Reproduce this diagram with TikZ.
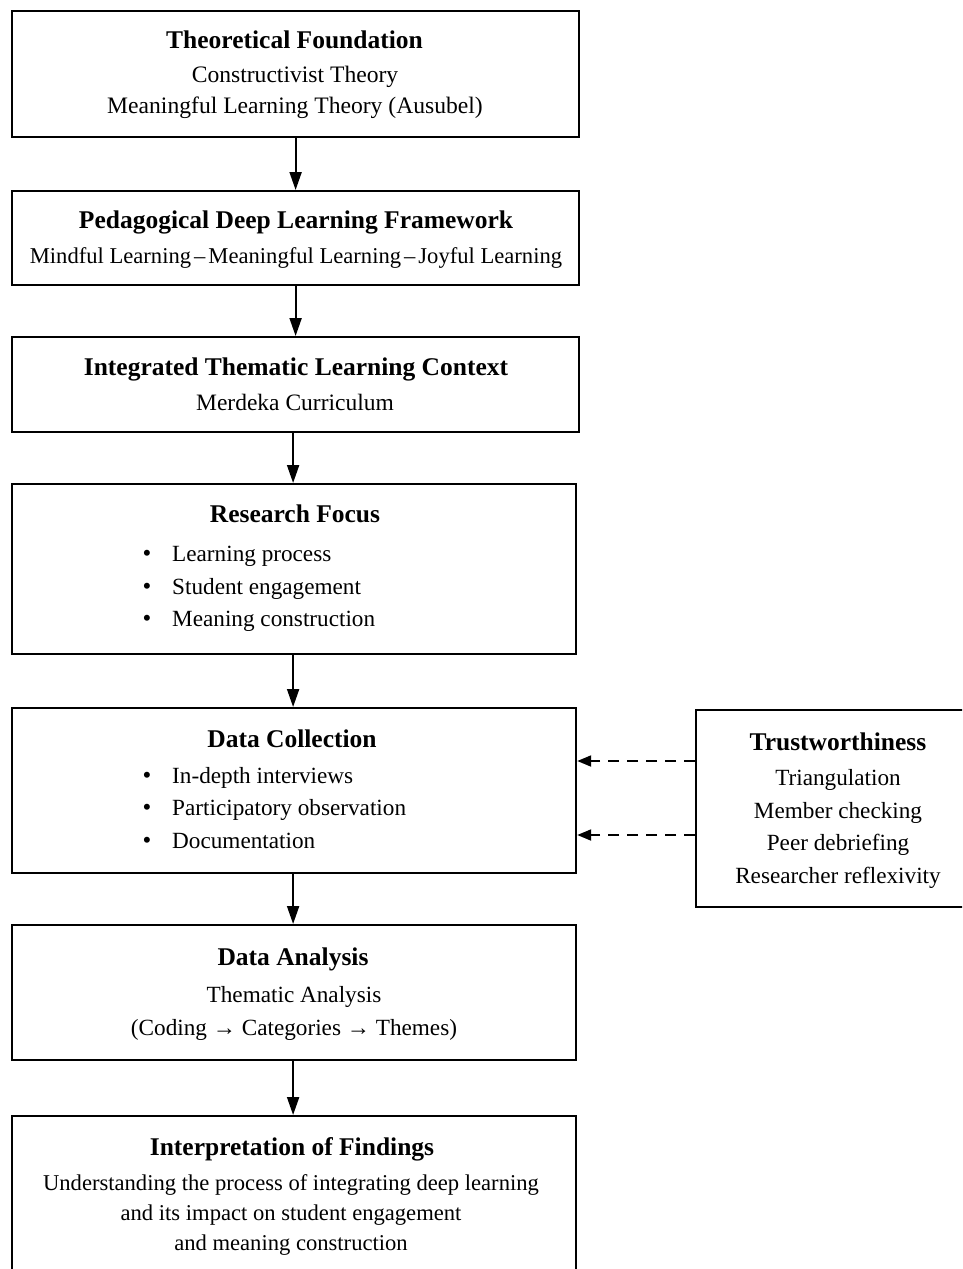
\documentclass[tikz,border=0pt]{standalone}
\usepackage{fontspec}
\setmainfont{Liberation Serif}
\usetikzlibrary{arrows.meta}
\begin{document}
\begin{tikzpicture}[x=1pt,y=-1pt,
  box/.style={draw, line width=2.2pt, inner sep=0pt, anchor=north west},
  ttl/.style={anchor=base, inner sep=0pt, font=\fontsize{25.5}{30}\selectfont\bfseries},
  txt/.style={anchor=base, inner sep=0pt, font=\fontsize{23.2}{27}\selectfont},
  itm/.style={anchor=base west, inner sep=0pt, font=\fontsize{23.2}{27}\selectfont},
  bul/.style={anchor=base, inner sep=0pt, font=\fontsize{25}{30}\selectfont},
  flow/.style={line width=2pt, -{Triangle[length=18pt,width=12pt]}},
  dflow/.style={line width=2pt, dash pattern=on 11pt off 8pt, -{Triangle[length=14pt,width=11pt]}}]
\useasboundingbox (0,0) rectangle (962,1269);
\clip (0,0) rectangle (962,1269);
\fill[white] (0,0) rectangle (962,1269);

% main column of boxes
\node[box, minimum width=567pt, minimum height=126pt] (b1) at (11,10) {};
\node[box, minimum width=567pt, minimum height=94pt]  (b2) at (11,190) {};
\node[box, minimum width=567pt, minimum height=95pt]  (b3) at (11,336) {};
\node[box, minimum width=564pt, minimum height=170pt] (b4) at (11,483) {};
\node[box, minimum width=564pt, minimum height=165pt] (b5) at (11,707) {};
\node[box, minimum width=564pt, minimum height=135pt] (b6) at (11,924) {};
\node[box, minimum width=564pt, minimum height=160pt] (b7) at (11,1115) {};
% side box
\node[box, minimum width=290pt, minimum height=197pt] (tw) at (695,709) {};

% box texts
\node[ttl] (t1) at (294.5,48) {Theoretical Foundation};
\node[txt, font=\fontsize{23.6}{27}\selectfont] (t1a) at (295,82) {Constructivist Theory};
\node[txt, font=\fontsize{23.6}{27}\selectfont] (t1b) at (295,113) {Meaningful Learning Theory (Ausubel)};

\node[ttl] (t2) at (296,228) {Pedagogical Deep Learning Framework};
\node[txt, font=\fontsize{22.6}{27}\selectfont] (t2a) at (296,263) {Mindful Learning\hspace{3pt}–\hspace{3pt}Meaningful Learning\hspace{3pt}–\hspace{3pt}Joyful Learning};

\node[ttl] (t3) at (296,375) {Integrated Thematic Learning Context};
\node[txt, font=\fontsize{23.5}{27}\selectfont] (t3a) at (295,410) {Merdeka Curriculum};

\node[ttl] (t4) at (295,522) {Research Focus};
\node[bul] (p4a) at (147,561) {•};
\node[itm] (t4a) at (172,561) {Learning process};
\node[bul] (p4b) at (147,594) {•};
\node[itm] (t4b) at (172,594) {Student engagement};
\node[bul] (p4c) at (147,626) {•};
\node[itm] (t4c) at (172,626) {Meaning construction};

\node[ttl] (t5) at (292,747) {Data Collection};
\node[bul] (p5a) at (147,783) {•};
\node[itm] (t5a) at (172,783) {In-depth interviews};
\node[bul] (p5b) at (147,815) {•};
\node[itm] (t5b) at (172,815) {Participatory observation};
\node[bul] (p5c) at (147,848) {•};
\node[itm] (t5c) at (172,848) {Documentation};

\node[ttl] (t6) at (293,965) {Data Analysis};
\node[txt] (t6a) at (294,1002) {Thematic Analysis};
\node[txt] (t6b) at (294,1035) {(Coding → Categories → Themes)};

\node[ttl] (t7) at (292,1155) {Interpretation of Findings};
\node[txt, font=\fontsize{22.6}{27}\selectfont] (t7a) at (291,1190) {Understanding the process of integrating deep learning};
\node[txt, font=\fontsize{22.6}{27}\selectfont] (t7b) at (291,1220) {and its impact on student engagement};
\node[txt, font=\fontsize{22.6}{27}\selectfont] (t7c) at (291,1250) {and meaning construction};

\node[ttl] (tt) at (838,750) {Trustworthiness};
\node[txt] (tta) at (838,785) {Triangulation};
\node[txt] (ttb) at (838,818) {Member checking};
\node[txt] (ttc) at (838,850) {Peer debriefing};
\node[txt] (ttd) at (838,883) {Researcher reflexivity};

% main flow
\draw[flow] (b1.south) -- (b2.north);
\draw[flow] (b2.south) -- (b3.north);
\draw[flow] ([xshift=-2.5pt]b3.south) -- ([xshift=-1pt]b4.north);
\draw[flow] ([xshift=-1pt]b4.south) -- ([xshift=-1pt]b5.north);
\draw[flow] ([xshift=-1pt]b5.south) -- ([xshift=-1pt]b6.north);
\draw[flow] ([xshift=-1pt]b6.south) -- ([xshift=-1pt]b7.north);

% trustworthiness feeds data collection
\coordinate (s1) at (tw.west |- 0,761);
\coordinate (e1) at (b5.east |- 0,761);
\coordinate (s2) at (tw.west |- 0,835);
\coordinate (e2) at (b5.east |- 0,835);
\draw[dflow] (s1) -- (e1);
\draw[dflow] (s2) -- (e2);
\end{tikzpicture}
\end{document}
